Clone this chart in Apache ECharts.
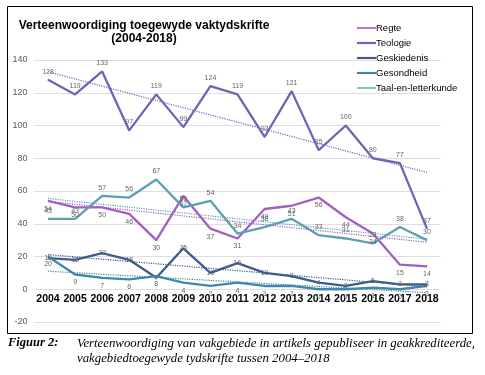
<!DOCTYPE html>
<html>
<head>
<meta charset="utf-8">
<script src="https://cdn.jsdelivr.net/npm/echarts@6/dist/echarts.min.js"></script>
<style>
  html, body { margin: 0; padding: 0; background: #fff; }
  #main { width: 485px; height: 375px; }
</style>
</head>
<body>
<div id="main"></div>
<script>
// jare op die x-as
var years = ['2004', '2005', '2006', '2007', '2008', '2009', '2010', '2011', '2012', '2013', '2014', '2015', '2016', '2017', '2018'];
var regte = [54, 50, 50, 46, 30, 57, 37, 31, 49, 51, 56, 44, 34, 15, 14];
var teologie = [128, 119, 133, 97, 119, 99, 124, 119, 93, 121, 85, 100, 80, 77, 37];
var geskiedenis = [19, 18, 22, 18, 7, 25, 10, 16, 10, 8, 4, 2, 5, 3, 3];
var gesondheid = [20, 9, 7, 6, 8, 4, 2, 4, 2, 2, 0, 0, 1, 0, 2];
var taal = [43, 43, 57, 56, 67, 50, 54, 34, 38, 43, 33, 31, 28, 38, 30];
var yTicks = [-20, 0, 20, 40, 60, 80, 100, 120, 140];

var myChart = echarts.init(document.getElementById('main'));

// lineere tendenslyn (soos Excel se trendline)
function trend(vals) {
    var n = vals.length, mx = (n - 1) / 2, my = 0, sxy = 0, sxx = 0;
    vals.forEach(function (v) { my += v / n; });
    vals.forEach(function (v, i) { sxy += (i - mx) * (v - my); sxx += (i - mx) * (i - mx); });
    var b = sxy / sxx;
    return vals.map(function (v, i) { return +(my + b * (i - mx)).toFixed(2); });
}

var colors = {
    regte: '#a25fbf',
    teologie: '#7263b8',
    geskiedenis: '#3d5b8c',
    gesondheid: '#4087aa',
    taal: '#5ca2ae'
};

function mainLine(name, data, color, pos) {
    return {
        name: name,
        type: 'line',
        data: data,
        symbol: 'circle',
        symbolSize: 1,
        showSymbol: true,
        lineStyle: { color: color, width: 2.3 },
        itemStyle: { color: color },
        label: {
            show: true,
            position: pos,
            distance: 4,
            color: '#666',
            fontSize: 7,
            fontFamily: 'Liberation Sans'
        },
        z: 3
    };
}

function trendLine(name, data, color) {
    return {
        name: name + ' trend',
        type: 'line',
        data: trend(data),
        symbol: 'none',
        silent: true,
        lineStyle: { color: color, width: 1.2, type: 'dotted' },
        z: 4
    };
}

// legend ikoon: net 'n dun lyn
var legendIcon = 'path://M0,0 L20,0 L20,2.3 L0,2.3 Z';

myChart.setOption({
    animation: false,
    textStyle: { fontFamily: 'Liberation Sans' },
    title: {
        text: 'Verteenwoordiging toegewyde vaktydskrifte\n(2004-2018)',
        left: 139,
        top: 14,
        textAlign: 'center',
        textStyle: { fontSize: 12, fontWeight: 'bold', color: '#000', lineHeight: 13 }
    },
    legend: {
        orient: 'vertical',
        left: 352,
        top: 18,
        itemWidth: 19,
        itemHeight: 2.3,
        itemGap: 5,
        icon: legendIcon,
        data: [
            { name: 'Regte', itemStyle: { color: '#b47fcb' } },
            { name: 'Teologie', itemStyle: { color: colors.teologie } },
            { name: 'Geskiedenis', itemStyle: { color: colors.geskiedenis } },
            { name: 'Gesondheid', itemStyle: { color: colors.gesondheid } },
            { name: 'Taal-en-letterkunde', itemStyle: { color: '#8cc0c8' } }
        ],
        textStyle: { fontSize: 9.5, color: '#000', padding: [0, 0, 0, -5] }
    },
    grid: { left: 34.5, right: 44.5, top: 60, bottom: 53 },
    xAxis: {
        type: 'category',
        data: years,
        offset: -32.75,
        axisLine: { onZero: false, show: false },
        axisTick: { show: false },
        axisLabel: { interval: 0, fontSize: 10.5, fontWeight: 'bold', color: '#000', margin: 4 }
    },
    yAxis: {
        type: 'value',
        min: yTicks[0],
        max: yTicks[yTicks.length - 1],
        interval: 20,
        axisLine: { show: false },
        axisTick: { show: false },
        axisLabel: { fontSize: 9, color: '#595959', margin: 7 },
        splitLine: { lineStyle: { color: '#dedede', width: 1 } }
    },
    graphic: [
        {
            type: 'rect',
            shape: { x: 7.5, y: 6.5, width: 465, height: 327 },
            style: { fill: 'none', stroke: '#000', lineWidth: 1 }
        },
        {
            type: 'text',
            left: 8, top: 336,
            style: { text: 'Figuur 2:', font: 'italic bold 12.5px "Liberation Serif"', fill: '#000' }
        },
        {
            type: 'text',
            left: 77, top: 336,
            style: {
                text: 'Verteenwoordiging van vakgebiede in artikels gepubliseer in geakkrediteerde,\nvakgebiedtoegewyde tydskrifte tussen 2004\u20132018',
                font: 'italic 12.8px "Liberation Serif"',
                lineHeight: 15,
                fill: '#000'
            }
        }
    ],
    series: [
        mainLine('Regte', regte, colors.regte, 'bottom'),
        mainLine('Teologie', teologie, colors.teologie, 'top'),
        mainLine('Geskiedenis', geskiedenis, colors.geskiedenis, 'inside'),
        mainLine('Gesondheid', gesondheid, colors.gesondheid, 'bottom'),
        mainLine('Taal-en-letterkunde', taal, colors.taal, 'top'),
        trendLine('Regte', regte, colors.regte),
        trendLine('Teologie', teologie, colors.teologie),
        trendLine('Geskiedenis', geskiedenis, colors.geskiedenis),
        trendLine('Gesondheid', gesondheid, colors.gesondheid),
        trendLine('Taal-en-letterkunde', taal, colors.taal)
    ]
});
</script>
</body>
</html>
